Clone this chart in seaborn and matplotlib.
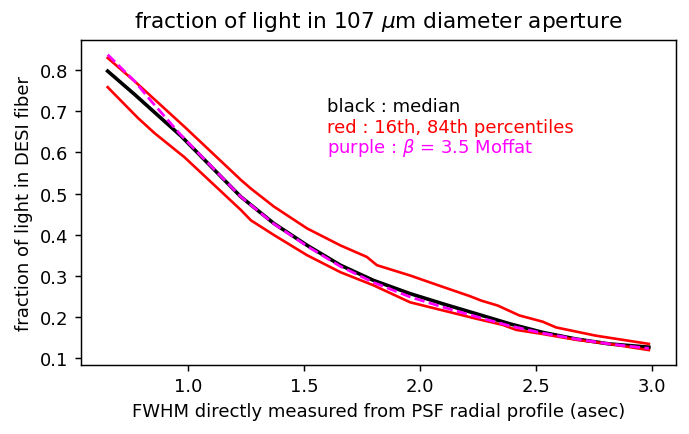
import matplotlib
matplotlib.use("Agg")
import matplotlib.pyplot as plt
import seaborn as sns
import pandas as pd

# median curve
x_median = [0.653, 0.770, 0.841, 0.970, 1.227, 1.370, 1.513, 1.656, 1.799, 1.956,
            2.099, 2.242, 2.384, 2.527, 2.670, 2.813, 2.985]
median = [0.797, 0.740, 0.704, 0.639, 0.492, 0.427, 0.374, 0.326, 0.289, 0.257,
          0.232, 0.208, 0.184, 0.163, 0.147, 0.135, 0.127]

# 84th percentile (upper red)
x_p84 = [0.653, 0.770, 0.984, 1.227, 1.270, 1.370, 1.513, 1.656, 1.770, 1.813, 1.956,
         2.099, 2.213, 2.263, 2.334, 2.427, 2.527, 2.585, 2.756, 2.985]
p84 = [0.829, 0.772, 0.662, 0.533, 0.512, 0.468, 0.415, 0.374, 0.346, 0.326, 0.301,
       0.273, 0.251, 0.240, 0.228, 0.204, 0.189, 0.175, 0.155, 0.135]

# 16th percentile (lower red)
x_p16 = [0.653, 0.770, 0.784, 0.856, 0.984, 1.227, 1.270, 1.370, 1.513, 1.656, 1.799,
         1.956, 2.099, 2.242, 2.356, 2.413, 2.527, 2.670, 2.813, 2.985]
p16 = [0.758, 0.691, 0.683, 0.646, 0.588, 0.460, 0.435, 0.399, 0.350, 0.309, 0.277,
       0.236, 0.216, 0.196, 0.181, 0.169, 0.159, 0.145, 0.135, 0.120]

# beta = 3.5 Moffat
x_moffat = [0.653, 0.770, 0.841, 0.970, 1.227, 1.370, 1.513, 1.656, 1.799, 1.956,
            2.099, 2.242, 2.384, 2.527, 2.670, 2.813, 2.985]
moffat = [0.837, 0.772, 0.724, 0.641, 0.492, 0.426, 0.372, 0.323, 0.284, 0.249,
          0.224, 0.201, 0.179, 0.161, 0.147, 0.135, 0.124]

xticks = [1.0, 1.5, 2.0, 2.5, 3.0]
yticks = [0.1, 0.2, 0.3, 0.4, 0.5, 0.6, 0.7, 0.8]

df_med = pd.DataFrame({"x": x_median, "y": median})
df_p84 = pd.DataFrame({"x": x_p84, "y": p84})
df_p16 = pd.DataFrame({"x": x_p16, "y": p16})
df_mof = pd.DataFrame({"x": x_moffat, "y": moffat})

plt.rcParams.update({
    "font.size": 13,
    "axes.linewidth": 1.05,
    "xtick.major.size": 4.5,
    "ytick.major.size": 4.5,
    "xtick.major.width": 1.05,
    "ytick.major.width": 1.05,
    "xtick.major.pad": 4.5,
    "ytick.major.pad": 4.5,
    "axes.labelpad": 5.0,
})

fig = plt.figure(figsize=(6.89, 4.35), dpi=100)
ax = fig.add_axes([0.117, 0.159, 0.864, 0.747])

sns.lineplot(data=df_med, x="x", y="y", ax=ax, color="black", lw=2.6, sort=False)
sns.lineplot(data=df_p84, x="x", y="y", ax=ax, color="#ff0000", lw=1.9, sort=False)
sns.lineplot(data=df_p16, x="x", y="y", ax=ax, color="#ff0000", lw=1.9, sort=False)
sns.lineplot(data=df_mof, x="x", y="y", ax=ax, color="#ff00ff", lw=2.0, sort=False,
             linestyle="--")

ax.set_xticks(xticks)
ax.set_yticks(yticks)
ax.set_xticklabels([f"{t:.1f}" for t in xticks])
ax.set_yticklabels([f"{t:.1f}" for t in yticks])
ax.tick_params(labelsize=13)
ax.set_xlabel("FWHM directly measured from PSF radial profile (asec)", fontsize=13)
ax.set_ylabel("fraction of light in DESI fiber", fontsize=13)
ax.set_title(r"fraction of light in 107 $\mu$m diameter aperture", fontsize=15.6, pad=9)

ax.text(1.6, 0.70, "black : median", color="black", fontsize=13)
ax.text(1.6, 0.65, "red : 16th, 84th percentiles", color="#ff0000", fontsize=13)
ax.text(1.6, 0.60, r"purple : $\beta$ = 3.5 Moffat", color="#ff00ff", fontsize=13)

fig.savefig("out.png", dpi=100)
